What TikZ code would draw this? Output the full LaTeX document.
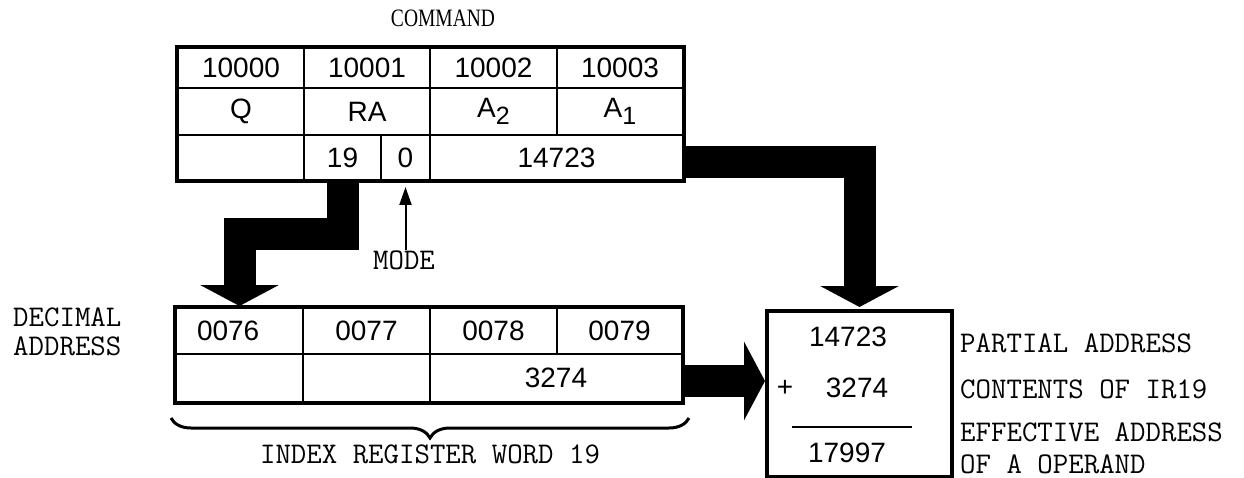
\documentclass[tikz,border=0pt]{standalone}
\usepackage{fontspec}
\usepackage{tikz}
\usetikzlibrary{arrows.meta, decorations.pathreplacing}
\newfontfamily\titlefam[FakeStretch=0.78]{Liberation Serif}
\newfontfamily\digitfam{Liberation Sans}
\newcommand{\typefont}{\ttfamily\fontsize{30}{29}\selectfont}
\newcommand{\digitfont}{\digitfam\fontsize{28}{30}\selectfont}
\newcommand{\sub}[1]{\raisebox{-7pt}{\fontsize{25}{25}\selectfont #1}}

\tikzset{
  cell/.style 2 args={draw, line width=2pt, inner sep=0pt, font=\digitfont,
    minimum width=#1, minimum height=#2},
  frame/.style={line width=4pt},
  fat/.style={line width=32pt, line join=miter, -{Triangle[length=21pt, width=78pt]}},
  tag/.style={font=\typefont, inner sep=0pt},
}

\begin{document}
\begin{tikzpicture}[x=1pt, y=-1pt]
  \useasboundingbox (0,0) rectangle (1244,478);

  % Command word: addresses, fields, contents
  \node[inner sep=0pt, font=\titlefam\fontsize{25}{27}\selectfont] (cmdtitle) at (443,18) {COMMAND};
  \node[cell={126pt}{40pt}] (w0) at (241,68) {10000};
  \node[cell={126pt}{40pt}] (w1) at (367,68) {10001};
  \node[cell={127pt}{40pt}] (w2) at (493.5,68) {10002};
  \node[cell={126pt}{40pt}] (w3) at (620,68) {10003};

  \node[cell={126pt}{47pt}] (q) at (241,111.5) {Q};
  \node[cell={126pt}{47pt}] (ra) at (367,111.5) {RA};
  \node[cell={127pt}{47pt}] (atwo) at (493.5,111.5) {A\sub{2}};
  \node[cell={126pt}{47pt}] (aone) at (620,111.5) {A\sub{1}};

  \node[cell={126pt}{45pt}] (wblank) at (241,157.5) {};
  \node[cell={77pt}{45pt}] (ix) at (342.5,157.5) {19};
  \node[cell={49pt}{45pt}] (md) at (405.5,157.5) {0};
  \node[cell={253pt}{45pt}] (part) at (556.5,157.5) {14723};

  % Index register word 19
  \node[cell={127pt}{46pt}, text width=85pt] (r76) at (239.5,331) {0076};
  \node[cell={127pt}{46pt}] (r77) at (366.5,331) {0077};
  \node[cell={127pt}{46pt}] (r78) at (493.5,331) {0078};
  \node[cell={125pt}{46pt}] (r79) at (619.5,331) {0079};
  \node[cell={127pt}{48pt}] (rx1) at (239.5,378) {};
  \node[cell={127pt}{48pt}] (rx2) at (366.5,378) {};
  \node[cell={252pt}{48pt}] (val) at (556,378) {3274};

  % Adder
  \node[draw, frame, minimum width=185pt, minimum height=166pt] (sum) at (859.5,394) {};
  \node[font=\digitfont] (pa) at (848,337) {14723};
  \node[font=\digitfont] (plus) at (785,388) {+};
  \node[font=\digitfont] (ir) at (857,388) {3274};
  \draw[line width=2pt] (792,427) -- (912,427);
  \node[font=\digitfont] (ea) at (847,453) {17997};

  % Fat transfer arrows
  \draw[fat] (ix.south) -- ++(0,53.5) -| ([yshift=1pt]r76.north);
  \draw[fat] ([yshift=-5pt]part.east) -| ([yshift=2pt]sum.north);
  \draw[fat] ([yshift=-3pt]val.east) -- ([yshift=-3pt]val.east -| sum.west);

  % Outer frames on top
  \draw[frame] (w0.north west) rectangle (part.south east);
  \draw[frame] (r76.north west) rectangle (val.south east);

  % Mode pointer
  \node[tag] (mode) at (404,260) {MODE};
  \draw[line width=2pt, -{Triangle[length=18pt, width=12pt]}]
    (mode.north -| md.south) -- ([yshift=-6pt]md.south);

  % Labels
  \node[tag, anchor=west, align=left] (decaddr) at (13,332) {DECIMAL\\ADDRESS};
  \draw[line width=3pt, decorate, decoration={brace, mirror, amplitude=20pt}]
    ([xshift=-4pt, yshift=-15pt]rx1.south west) -- ([xshift=6pt, yshift=-15pt]val.south east)
    node[tag, midway, yshift=-36pt] (irw) {INDEX REGISTER WORD 19};
  \node[tag, anchor=west] (lpa) at (960,343) {PARTIAL ADDRESS};
  \node[tag, anchor=west] (lir) at (960,389) {CONTENTS OF IR19};
  \node[tag, anchor=west, align=left] (lea) at (960,448) {EFFECTIVE ADDRESS\\[3pt]OF A OPERAND};
\end{tikzpicture}
\end{document}
